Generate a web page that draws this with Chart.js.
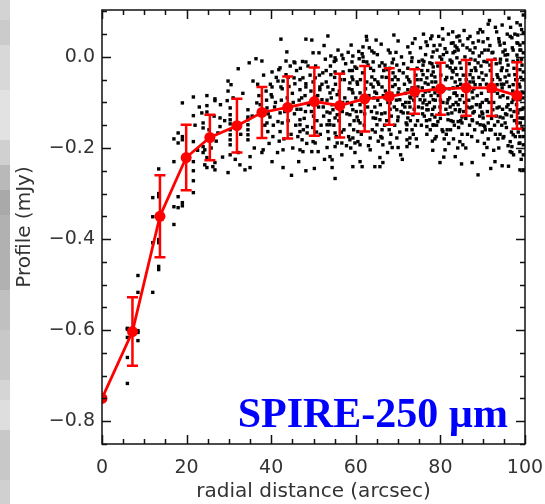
<!DOCTYPE html>
<html>
<head>
<meta charset="utf-8">
<script src="https://cdn.jsdelivr.net/npm/chart.js@4.4.1/dist/chart.umd.min.js"></script>
<style>
  html, body { margin: 0; padding: 0; background: #fff; }
  #wrap { position: relative; width: 545px; height: 504px; }
  #strip {
    position: absolute; left: 0; top: 0; width: 10px; height: 504px;
    background: linear-gradient(to bottom,
      #d3d3d3 0px, #d3d3d3 20px, #cbcbcb 20px, #cbcbcb 45px, #d8d8d8 45px, #d8d8d8 90px,
      #e2e2e2 90px, #e2e2e2 140px, #d0d0d0 140px, #d0d0d0 165px, #b9b9b9 165px, #b9b9b9 190px,
      #a9a9a9 190px, #a9a9a9 215px, #b1b1b1 215px, #b1b1b1 290px, #c0c0c0 290px, #c0c0c0 330px,
      #c8c8c8 330px, #c8c8c8 380px, #d5d5d5 380px, #d5d5d5 400px, #dedede 400px, #dedede 430px,
      #c8c8c8 430px, #c8c8c8 480px, #d0d0d0 480px);
  }
  #chart { position: absolute; left: 0; top: 0; }
</style>
</head>
<body>
<div id="wrap">
  <div id="strip"></div>
  <canvas id="chart" width="545" height="504"></canvas>
</div>
<script>
// binned profile (red)
const binRadius = [0, 7.2, 13.7, 19.9, 25.5, 31.9, 37.8, 43.9, 50.2, 56.2, 62.1, 67.9, 73.9, 80.0, 86.1, 92.1, 98.1];
const binProfile = [-0.750, -0.603, -0.350, -0.221, -0.177, -0.151, -0.122, -0.111, -0.098, -0.107, -0.092, -0.087, -0.076, -0.070, -0.068, -0.068, -0.085];
const binError = [0, 0.075, 0.090, 0.072, 0.050, 0.059, 0.056, 0.068, 0.075, 0.070, 0.072, 0.062, 0.049, 0.057, 0.061, 0.062, 0.073];

// individual pixels (black dots): [radius, profile]
const pixelSamples = [
  [19,-0.101],[21.6,-0.088],[21.6,-0.129],[18,-0.167],[17,-0.180],[19,-0.175],[19,-0.182],[18,-0.189],
  [21.6,-0.186],[17,-0.230],[21.6,-0.230],[21.6,-0.250],[21.6,-0.272],[21.6,-0.298],[13.4,-0.246],
  [12,-0.309],[13.4,-0.300],[13.4,-0.307],[18,-0.307],[17,-0.329],[18,-0.331],[19,-0.327],[19,-0.320],
  [12,-0.351],[17,-0.368],[12,-0.408],[13.4,-0.408],[13.4,-0.401],[13.4,-0.460],[13.4,-0.467],
  [8.5,-0.480],[8.5,-0.517],[12,-0.517],[6,-0.596],[6,-0.598],[8.5,-0.601],[8.5,-0.605],[6,-0.616],
  [8.5,-0.623],[6,-0.660],[6,-0.717],
  [42.3,0.039],[48.2,0.039],[43.7,0.011],[45.4,-0.011],[45.6,-0.013],[43.5,-0.009],[48.2,-0.011],
  [34.8,-0.013],[36.4,-0.004],[37.8,-0.009],[32.2,-0.026],[40.2,-0.033],[42.1,-0.024],[41.8,-0.028],
  [43.5,-0.039],[35.7,-0.053],[29.8,-0.053],[30.5,-0.061],[41.6,-0.053],[42.8,-0.053],[42.3,-0.066],
  [42.6,-0.070],[40.2,-0.066],[45.4,-0.046],[46.8,-0.050],[47.5,-0.046],[45.6,-0.059],[46.8,-0.072],
  [48.2,-0.059],[48.2,-0.066],[29.8,-0.075],[40.0,-0.083],[40.2,-0.088],[24.8,-0.085],[26.7,-0.092],
  [37.1,-0.085],[38.8,-0.075],
  [26.7,-0.096],[29.6,-0.096],[24.8,-0.107],[23.6,-0.123],[24.8,-0.121],
  [30.3,-0.112],[30.3,-0.127],[30.3,-0.138],[30.3,-0.147],[30.3,-0.160],[30.3,-0.171],[30.3,-0.182],[30.3,-0.193],
  [27.9,-0.134],[27.9,-0.153],[27.4,-0.167],[23.9,-0.145],[23.9,-0.156],[23.9,-0.197],[24.3,-0.204],
  [23.9,-0.210],[24.8,-0.221],
  [34.5,-0.116],[34.5,-0.132],[34.5,-0.138],[34.5,-0.149],[34.5,-0.160],[34.5,-0.171],[34.5,-0.182],
  [36.6,-0.101],[37.4,-0.105],[39.0,-0.112],[39.7,-0.132],[39.0,-0.145],[39.2,-0.164],[40.4,-0.175],
  [38.1,-0.204],[37.8,-0.210],[35.0,-0.219],[40.2,-0.230],[42.1,-0.123],[42.6,-0.145],[41.6,-0.142],
  [42.1,-0.164],[42.8,-0.204],[46.8,-0.138],[46.8,-0.149],[46.8,-0.164],[47.3,-0.182],[46.8,-0.204],
  [47.5,-0.208],[48.5,-0.153],[48.5,-0.167],[32.2,-0.210],[32.6,-0.237],[30.3,-0.215],[26.2,-0.241],
  [26.7,-0.248],[26.7,-0.232],[24.3,-0.237],[24.8,-0.243],[29.8,-0.254],[33.8,-0.248],[35.0,-0.243],
  [42.8,-0.243],[48.2,-0.250],
  [22.0,-0.150],[22.6,-0.205],[23.0,-0.110],[25.3,-0.160],[25.8,-0.200],[26.5,-0.130],[27.0,-0.185],
  [28.0,-0.105],[28.5,-0.220],[29.0,-0.140],[31.0,-0.090],[31.5,-0.225],[32.8,-0.170],[33.3,-0.080],
  [35.5,-0.130],[36.0,-0.200],[36.8,-0.060],[38.5,-0.150],[39.5,-0.190],[41.0,-0.100],[41.5,-0.210],
  [43.0,-0.180],[44.0,-0.140],[43.8,-0.090],
  [38.2,-0.040],[38.9,-0.095],[39.3,-0.125],[39.8,-0.060],[40.5,-0.150],[40.8,-0.110],[41.2,-0.045],
  [41.9,-0.185],[42.4,-0.095],[43.2,-0.120],[44.2,-0.065],[44.7,-0.170],[45.1,-0.200],[46.1,-0.115],
  [46.9,-0.025],[47.6,-0.160],[48.1,-0.120],[48.7,-0.020],[49.4,-0.075],[50.0,-0.130],[50.7,-0.165],
  [51.4,-0.040],[51.8,-0.150],[52.3,-0.110],[53.0,-0.030],[53.7,-0.140],[54.2,-0.090],[54.9,-0.010],
  [55.4,-0.175],[56.1,-0.075],[56.6,-0.165],[57.3,-0.050],[57.9,-0.125],[58.5,-0.030],[59.0,-0.105],
  [59.5,-0.160],[60.1,-0.120],[58.3,-0.175],[56.9,-0.100],[55.0,-0.045],[51.0,-0.085],[47.2,-0.090],[44.0,-0.045],
  [53.4,0.046],[49.6,0.037],[58.9,0.026],[61.7,0.022],[62.6,0.037],[64.8,0.037],[70.0,0.035],
  [72.3,0.022],[68.1,0.009],[63.8,0.013],[64.3,0.009],[61.5,0.007],[61.7,0.000],[60.8,-0.004],
  [59.3,0.002],[59.1,-0.011],[51.3,0.009],[49.9,0.009],[54.1,0.002],[55.1,-0.002],[55.3,-0.007],
  [56.7,0.004],[57.0,-0.004],[72.8,0.009],[73.3,-0.002],[66.2,-0.013],[66.9,-0.018],[68.6,-0.013],
  [69.7,-0.018],[64.1,-0.011],[62.6,-0.011],[62.9,-0.018],[59.8,-0.022],[57.0,-0.033],[55.1,-0.033],
  [54.1,-0.039],[52.2,-0.035],[50.4,-0.046],[51.5,-0.066],[51.5,-0.072],[53.0,-0.055],[53.4,-0.066],
  [53.9,-0.079],[54.6,-0.072],[55.6,-0.083],[59.1,-0.044],[59.3,-0.050],[58.6,-0.057],[60.3,-0.055],
  [59.1,-0.072],[59.3,-0.079],[61.0,-0.079],[63.8,-0.044],[64.5,-0.050],[65.2,-0.055],[66.2,-0.044],
  [64.1,-0.066],[64.5,-0.077],[66.2,-0.066],[67.4,-0.028],[68.8,-0.035],[69.3,-0.044],[68.6,-0.050],
  [69.3,-0.061],[71.2,-0.035],[72.1,-0.044],[72.8,-0.055],[72.3,-0.072],[73.3,-0.068],[74.5,-0.050],
  [74.7,-0.066],[70.0,-0.079],[49.9,-0.055],
  [53.2,-0.121],[53.9,-0.123],[54.6,-0.116],[55.1,-0.134],[55.6,-0.127],[53.9,-0.149],[53.2,-0.149],
  [53.4,-0.164],[55.1,-0.167],[58.6,-0.127],[60.3,-0.132],[59.3,-0.116],[58.6,-0.149],[61.0,-0.145],
  [60.5,-0.164],[64.5,-0.110],[65.0,-0.123],[64.1,-0.134],[65.0,-0.149],[65.7,-0.138],[66.9,-0.123],
  [69.7,-0.116],[70.0,-0.132],[71.2,-0.123],[72.3,-0.134],[72.8,-0.110],[73.5,-0.127],[72.1,-0.149],
  [49.9,-0.186],[50.4,-0.189],[49.6,-0.208],[51.1,-0.208],[53.2,-0.199],[55.1,-0.197],[55.6,-0.189],
  [56.7,-0.189],[58.6,-0.182],[59.3,-0.178],[59.8,-0.189],[60.5,-0.186],[61.0,-0.193],[63.4,-0.178],
  [63.4,-0.204],[59.8,-0.210],[56.7,-0.215],[53.9,-0.219],[54.4,-0.226],[66.2,-0.178],[68.1,-0.189],
  [68.6,-0.199],[66.4,-0.193],[69.7,-0.178],[70.0,-0.199],[72.1,-0.182],[72.8,-0.178],[72.1,-0.197],
  [73.3,-0.160],[74.5,-0.197],[61.0,-0.230],[61.5,-0.241],[59.3,-0.241],[54.4,-0.243],[65.7,-0.221],
  [66.4,-0.232],[65.7,-0.241],[64.5,-0.241],[55.1,-0.267],
  [50.4,-0.088],[52.0,-0.094],[57.4,-0.090],[62.2,-0.094],[66.9,-0.090],[68.1,-0.101],[61.0,-0.105],[56.3,-0.103],
  [44.5,-0.020],[45.0,-0.080],[45.2,-0.100],[45.5,-0.125],[45.8,-0.150],[46.0,-0.030],[46.3,-0.175],
  [46.6,-0.095],[47.0,-0.115],[47.4,-0.010],[47.8,-0.135],[48.0,-0.085],[48.4,-0.190],[48.8,-0.105],
  [49.2,-0.040],[49.5,-0.120],[49.8,-0.155],[50.5,-0.020],[50.8,-0.140],[51.2,-0.110],[51.6,-0.170],
  [52.0,-0.060],[52.4,-0.130],[52.8,-0.005],[53.2,-0.095],[53.6,-0.180],[54.0,-0.020],[54.4,-0.105],
  [54.8,-0.150],[55.2,-0.060],[55.6,-0.110],[56.0,-0.140],[56.4,-0.050],[56.8,-0.120],[57.2,-0.160],
  [57.6,-0.015],[58.0,-0.100],[58.4,-0.070],[58.8,-0.200],[59.2,-0.030],[59.6,-0.140],[60.0,-0.090],
  [57.8,-0.195],[52.6,-0.225],[50.2,-0.245],[46.5,-0.230],[44.8,-0.260],[58.2,0.010],[55.8,0.015],[52.5,0.025],
  [60.4,-0.060],[60.7,0.012],[61.2,-0.120],[61.6,-0.035],[62.0,-0.150],[62.3,-0.070],[62.8,-0.110],
  [63.2,0.020],[63.5,-0.025],[63.9,-0.160],[64.3,-0.090],[64.7,-0.135],[65.1,0.005],[65.4,-0.060],
  [65.8,-0.105],[66.2,-0.160],[66.6,-0.030],[67.0,-0.075],[67.3,-0.140],[67.7,0.015],[68.1,-0.115],
  [68.5,-0.080],[68.9,-0.005],[69.2,-0.150],[69.6,-0.095],[70.0,-0.050],[70.4,-0.165],[70.8,0.000],
  [71.1,-0.105],[71.5,-0.060],[71.9,-0.145],[72.3,-0.025],[72.7,-0.190],[73.0,-0.090],[73.4,0.030],
  [73.8,-0.115],[74.2,-0.040],[74.6,-0.140],[74.9,-0.010],[63.0,-0.195],[67.5,-0.210],[71.0,-0.225],
  [62.5,0.045],[69.0,0.048],[74.0,0.040],[66.0,0.028],[70.6,-0.215],[61.3,-0.170],[65.3,-0.185],
  [73.6,-0.170],[60.2,-0.025],[64.9,-0.080],[68.3,-0.170],[71.7,-0.080],[74.4,-0.085],
  [60.6,-0.140],[61.1,-0.050],[61.8,-0.010],[62.1,-0.125],[62.6,-0.055],[63.1,-0.085],[63.7,-0.120],
  [64.2,-0.030],[64.6,-0.165],[65.2,-0.095],[65.6,-0.020],[66.1,-0.125],[66.5,-0.085],[66.8,-0.150],
  [67.2,-0.045],[67.6,-0.100],[68.0,-0.025],[68.4,-0.130],[68.7,-0.065],[69.1,-0.110],[69.5,0.010],
  [69.9,-0.140],[70.2,-0.070],[70.7,-0.120],[71.3,-0.015],[71.8,-0.100],[72.0,-0.160],[72.5,-0.050],
  [72.9,-0.140],[73.2,-0.010],[73.7,-0.095],[74.1,-0.150],[74.5,-0.025],[74.8,-0.110],[61.4,-0.090],
  [63.6,-0.060],[65.9,-0.175],[67.9,-0.160],[70.3,-0.030],[72.6,-0.100],[74.3,-0.180],
  [91.3,0.072],[94.6,0.070],[88.9,0.053],[84.4,0.046],[83.9,0.044],[78.0,0.046],[80.6,0.039],
  [76.6,0.033],[97.6,0.050],[98.3,0.048],[79.9,0.026],[83.0,0.031],[83.5,0.024],[85.3,0.026],
  [87.7,0.031],[90.1,0.033],[93.9,0.033],[94.1,0.026],[96.9,0.042],[98.1,0.031],[98.8,0.026],
  [98.8,0.015],[78.3,0.011],[78.0,0.000],[81.1,0.018],[79.9,0.000],[83.9,0.020],[83.0,0.009],
  [87.0,0.015],[87.7,0.009],[89.8,0.009],[91.3,0.015],[92.2,0.009],[94.8,0.011],[95.3,0.004],
  [97.2,0.015],[98.1,0.004],[75.7,-0.007],[75.9,-0.018],[77.5,-0.013],[78.3,-0.022],[82.3,-0.007],
  [82.7,-0.013],[82.3,-0.024],[83.9,-0.002],[84.6,-0.013],[88.2,-0.007],[88.9,-0.013],[88.2,-0.024],
  [91.0,-0.011],[91.7,-0.018],[94.1,-0.013],[94.6,-0.024],[95.7,-0.007],[96.0,-0.018],[98.3,-0.007],
  [99.3,-0.018],[98.8,-0.028],[75.9,-0.039],[76.8,-0.046],[76.4,-0.057],[78.3,-0.033],[78.7,-0.044],
  [78.0,-0.055],[75.7,-0.068],[76.4,-0.077],[78.3,-0.068],[78.7,-0.079],[83.0,-0.033],[83.9,-0.039],
  [82.7,-0.046],[83.5,-0.055],[84.6,-0.050],[83.0,-0.068],[83.5,-0.079],[87.0,-0.039],[87.7,-0.046],
  [87.0,-0.055],[88.2,-0.061],[87.5,-0.077],[89.8,-0.035],[90.1,-0.050],[89.4,-0.061],[93.4,-0.039],
  [94.1,-0.050],[93.4,-0.061],[94.6,-0.068],[95.3,-0.044],[95.7,-0.055],[97.6,-0.039],[98.1,-0.050],
  [97.2,-0.061],[98.8,-0.066],[99.3,-0.077],[97.6,-0.079],
  [75.9,-0.101],[76.8,-0.105],[75.7,-0.112],[77.1,-0.116],[78.0,-0.127],[78.7,-0.132],[77.5,-0.138],
  [81.6,-0.101],[82.3,-0.110],[82.7,-0.123],[81.8,-0.138],[83.0,-0.142],[84.2,-0.105],[84.6,-0.116],
  [85.1,-0.132],[84.2,-0.142],[87.0,-0.112],[87.7,-0.123],[87.5,-0.138],[88.7,-0.145],[89.4,-0.105],
  [89.8,-0.121],[90.1,-0.134],[89.4,-0.149],[90.5,-0.153],[91.3,-0.145],[91.7,-0.160],[93.4,-0.112],
  [94.1,-0.132],[93.6,-0.142],[94.8,-0.134],[95.3,-0.145],[96.0,-0.105],[96.5,-0.116],[95.7,-0.127],
  [98.3,-0.123],[98.8,-0.134],[98.1,-0.145],[99.3,-0.156],[76.8,-0.153],[78.3,-0.149],[80.6,-0.164],
  [81.6,-0.160],[79.4,-0.142],[85.1,-0.145],[78.7,-0.180],[84.6,-0.186],[85.3,-0.193],[81.1,-0.204],
  [83.5,-0.219],[91.3,-0.180],[91.0,-0.199],[93.6,-0.180],[94.8,-0.178],[96.5,-0.186],[96.9,-0.197],
  [96.5,-0.208],[97.2,-0.171],[98.8,-0.175],[98.8,-0.189],[79.9,-0.232],[87.5,-0.232],[92.9,-0.230],
  [94.6,-0.239],[88.9,-0.259],[98.8,-0.248],[96.9,-0.210],[98.8,-0.208],
  [70.4,-0.094],[71.6,-0.110],[72.8,-0.088],[72.3,-0.123],[75.2,-0.094],[76.8,-0.116],[78.3,-0.094],
  [79.9,-0.110],[81.8,-0.094],[83.5,-0.116],[84.6,-0.094],[86.3,-0.110],[87.7,-0.090],[89.4,-0.110],
  [91.0,-0.094],[92.4,-0.116],[94.1,-0.088],[95.7,-0.110],[97.2,-0.094],[98.8,-0.116],[98.8,-0.094],
  [75.3,0.020],[75.6,-0.030],[75.9,-0.085],[76.2,-0.130],[76.5,0.005],[76.8,-0.170],[77.1,-0.060],
  [77.4,-0.100],[77.7,0.040],[78.0,-0.015],[78.3,-0.150],[78.6,-0.110],[78.9,-0.055],[79.2,0.015],
  [79.5,-0.085],[79.8,-0.125],[80.1,-0.040],[80.4,-0.160],[80.7,0.005],[81.0,-0.070],[81.3,-0.115],
  [81.6,-0.020],[81.9,0.050],[82.2,-0.090],[82.5,-0.140],[82.8,-0.030],[83.1,-0.180],[83.4,0.012],
  [83.7,-0.100],[84.0,-0.065],[84.3,-0.155],[84.6,0.035],[84.9,-0.025],[85.2,-0.085],[85.5,-0.120],
  [85.8,0.000],[86.1,-0.050],[86.4,-0.170],[86.7,-0.095],[87.0,0.045],[87.3,-0.030],[87.6,-0.140],
  [87.9,-0.070],[88.2,0.020],[88.5,-0.105],[88.8,-0.185],[89.1,-0.045],[89.4,0.060],[89.7,-0.080],
  [90.0,-0.125],[90.3,-0.010],[90.6,-0.160],[90.9,-0.060],[91.2,0.040],[91.5,-0.100],[91.8,-0.030],
  [92.1,-0.135],[92.4,0.010],[92.7,-0.075],[93.0,-0.170],[93.3,0.055],[93.6,-0.045],[93.9,-0.110],
  [94.2,-0.005],[94.5,-0.150],[94.8,-0.085],[95.1,0.030],[95.4,-0.125],[95.7,-0.030],[96.0,-0.195],
  [96.3,-0.065],[96.6,0.065],[96.9,-0.100],[97.2,-0.010],[97.5,-0.140],[97.8,-0.050],[98.1,0.075],
  [98.4,-0.165],[98.7,-0.085],[99.0,0.015],[99.3,-0.115],[99.0,-0.045],[97.0,0.020],[95.0,-0.175],
  [92.6,-0.205],[90.2,-0.215],[86.0,-0.200],[82.0,-0.190],[78.2,-0.205],[76.0,0.050],[80.5,0.062],
  [85.6,0.058],[91.6,0.080],[96.2,0.085],[99.2,0.060],[77.8,-0.085],[81.5,-0.045],[84.8,-0.140],
  [88.0,-0.120],[90.8,-0.095],[93.2,-0.015],[96.8,-0.165],[98.6,-0.190],[80.0,-0.095],[83.2,-0.080],
  [86.8,-0.015],[89.9,-0.165],[94.4,-0.060],[97.4,-0.120],[75.5,-0.150],[79.0,-0.175],[82.6,0.030],
  [85.9,-0.065],[89.2,0.002],[92.8,-0.150],[95.9,0.005],[99.4,-0.135],
  [75.4,-0.050],[75.8,-0.125],[76.1,-0.010],[76.3,-0.095],[76.7,-0.140],[77.0,-0.030],[77.3,-0.075],
  [77.6,-0.160],[77.9,-0.040],[78.2,-0.115],[78.5,0.025],[78.8,-0.095],[79.1,-0.150],[79.4,-0.020],
  [79.7,-0.065],[80.0,-0.135],[80.3,-0.005],[80.6,-0.100],[80.9,-0.180],[81.2,-0.050],[81.5,0.010],
  [81.8,-0.125],[82.1,-0.070],[82.4,-0.160],[82.7,-0.010],[83.0,-0.105],[83.3,-0.150],[83.6,-0.025],
  [83.9,-0.085],[84.2,0.015],[84.5,-0.120],[84.8,-0.060],[85.1,-0.170],[85.4,-0.040],[85.7,-0.100],
  [86.0,-0.135],[86.3,0.020],[86.6,-0.070],[86.9,-0.150],[87.2,-0.005],[87.5,-0.110],[87.8,-0.055],
  [88.1,-0.160],[88.4,-0.030],[88.7,-0.085],[89.0,0.035],[89.3,-0.130],[89.6,-0.020],[89.9,-0.100],
  [90.2,-0.150],[90.5,0.015],[90.8,-0.040],[91.1,-0.120],[91.4,-0.075],[91.7,0.025],[92.0,-0.160],
  [92.3,-0.050],[92.6,-0.100],[92.9,-0.005],[93.2,-0.130],[93.5,-0.080],[93.8,0.040],[94.1,-0.170],
  [94.4,-0.030],[94.7,-0.115],[95.0,-0.060],[95.3,0.015],[95.6,-0.155],[95.9,-0.090],[96.2,-0.040],
  [96.5,0.045],[96.8,-0.130],[97.1,-0.075],[97.4,-0.025],[97.7,-0.175],[98.0,-0.105],[98.3,0.030],
  [98.6,-0.060],[98.9,-0.145],[99.2,-0.005],[99.5,-0.090],[76.9,0.025],[79.6,0.045],[82.9,0.055],
  [86.5,0.040],[90.0,0.055],[93.0,0.065],[95.8,0.050],[98.9,0.070],[78.1,-0.185],[81.4,-0.170],
  [84.1,-0.200],[87.4,-0.175],[90.4,-0.190],[93.8,-0.200],[97.3,-0.215],[99.1,-0.225],[80.8,-0.220],
  [85.0,-0.235],[91.9,-0.245],[96.1,-0.240],
  [99.6,0.092],[99.6,0.053],[99.6,0.031],[99.6,0.009],[99.6,-0.033],[99.6,-0.050],[99.6,-0.079],
  [99.6,-0.112],[99.6,-0.134],[99.6,-0.160],[99.6,-0.175],[99.6,-0.193],[99.6,-0.215],[99.6,-0.248]
];

const xTicks = [0, 20, 40, 60, 80, 100];
const yTicks = [-0.8, -0.6, -0.4, -0.2, 0.0];
const xRange = [0, 100];
const yRange = [-0.85, 0.103];

const fmtY = v => (v < -1e-9 ? '\u2212' : '') + Math.abs(v).toFixed(1);

// error bars drawn with the chart's own scales
const errorBars = {
  id: 'errorBars',
  afterDatasetsDraw(chart) {
    const { ctx, chartArea: a, scales: { x, y } } = chart;
    ctx.save();
    ctx.beginPath();
    ctx.rect(a.left, a.top, a.right - a.left, a.bottom - a.top);
    ctx.clip();
    ctx.strokeStyle = '#ff0000';
    ctx.lineWidth = 2.5;
    binRadius.forEach((r, i) => {
      const e = binError[i];
      if (!e) return;
      const px = x.getPixelForValue(r);
      const top = y.getPixelForValue(binProfile[i] + e);
      const bot = y.getPixelForValue(binProfile[i] - e);
      ctx.beginPath();
      ctx.moveTo(px, top); ctx.lineTo(px, bot);
      ctx.moveTo(px - 5.5, top); ctx.lineTo(px + 5.5, top);
      ctx.moveTo(px - 5.5, bot); ctx.lineTo(px + 5.5, bot);
      ctx.stroke();
    });
    ctx.restore();
  }
};

// IDL style box with inward ticks on all sides
const frameTicks = {
  id: 'frameTicks',
  afterDatasetsDraw(chart) {
    const { ctx, chartArea: a, scales: { x, y } } = chart;
    ctx.save();
    ctx.strokeStyle = '#111';
    ctx.lineWidth = 1.5;
    ctx.strokeRect(a.left, a.top, a.right - a.left, a.bottom - a.top);
    ctx.beginPath();
    for (let i = 0; i <= 20; i++) {
      const v = i * 5;
      const px = Math.round(x.getPixelForValue(v)) + 0.5;
      const len = v % 20 === 0 ? 9 : 5;
      ctx.moveTo(px, a.bottom); ctx.lineTo(px, a.bottom - len);
      ctx.moveTo(px, a.top); ctx.lineTo(px, a.top + len);
    }
    for (let i = -17; i <= 2; i++) {
      const v = i * 0.05;
      const py = Math.round(y.getPixelForValue(v)) + 0.5;
      const len = i % 4 === 0 ? 9 : 5;
      ctx.moveTo(a.left, py); ctx.lineTo(a.left + len, py);
      ctx.moveTo(a.right, py); ctx.lineTo(a.right - len, py);
    }
    ctx.stroke();
    ctx.restore();
  }
};

const bandLabel = {
  id: 'bandLabel',
  afterDraw(chart) {
    const { ctx } = chart;
    ctx.save();
    ctx.fillStyle = '#0000ff';
    ctx.font = 'bold 42px "Liberation Serif", "Times New Roman", serif';
    ctx.textAlign = 'right';
    ctx.textBaseline = 'alphabetic';
    ctx.fillText('SPIRE-250 \u00b5m', 508, 427);
    ctx.restore();
  }
};

const tickFont = { family: '"DejaVu Sans", sans-serif', size: 19 };
const titleFont = { family: '"DejaVu Sans", sans-serif', size: 20 };

new Chart(document.getElementById('chart'), {
  type: 'scatter',
  data: {
    datasets: [
      {
        label: 'profile',
        data: binRadius.map((r, i) => ({ x: r, y: binProfile[i] })),
        showLine: true,
        borderColor: '#ff0000',
        borderWidth: 2.8,
        backgroundColor: '#ff0000',
        pointRadius: 5.5,
        pointStyle: 'circle',
        pointBorderWidth: 0
      },
      {
        label: 'pixels',
        data: pixelSamples.map(p => ({ x: p[0], y: p[1] })),
        backgroundColor: '#000',
        borderWidth: 0,
        pointStyle: 'rect',
        pointRadius: 2.4
      }
    ]
  },
  options: {
    responsive: false,
    animation: false,
    layout: { padding: { left: 0, right: 20, top: 10, bottom: 0 } },
    plugins: { legend: { display: false }, tooltip: { enabled: false } },
    scales: {
      x: {
        min: xRange[0], max: xRange[1],
        afterBuildTicks: s => { s.ticks = xTicks.map(v => ({ value: v })); },
        afterFit: s => { s.height = 60; s.paddingLeft = 0; s.paddingRight = 0; },
        grid: { display: false, drawTicks: false },
        border: { display: false },
        ticks: { font: tickFont, color: '#333', padding: 13, maxRotation: 0, autoSkip: false },
        title: { display: true, text: 'radial distance (arcsec)', font: titleFont, color: '#333', padding: { top: 0, bottom: 0 } }
      },
      y: {
        min: yRange[0], max: yRange[1],
        afterBuildTicks: s => { s.ticks = yTicks.map(v => ({ value: v })); },
        afterFit: s => { s.width = 102; s.paddingTop = 0; s.paddingBottom = 0; },
        grid: { display: false, drawTicks: false },
        border: { display: false },
        ticks: { font: tickFont, color: '#333', padding: 7, callback: v => fmtY(v) },
        title: { display: true, text: 'Profile (mJy)', font: titleFont, color: '#333', padding: { top: 13, bottom: 0 } }
      }
    }
  },
  plugins: [errorBars, frameTicks, bandLabel]
});
</script>
</body>
</html>
